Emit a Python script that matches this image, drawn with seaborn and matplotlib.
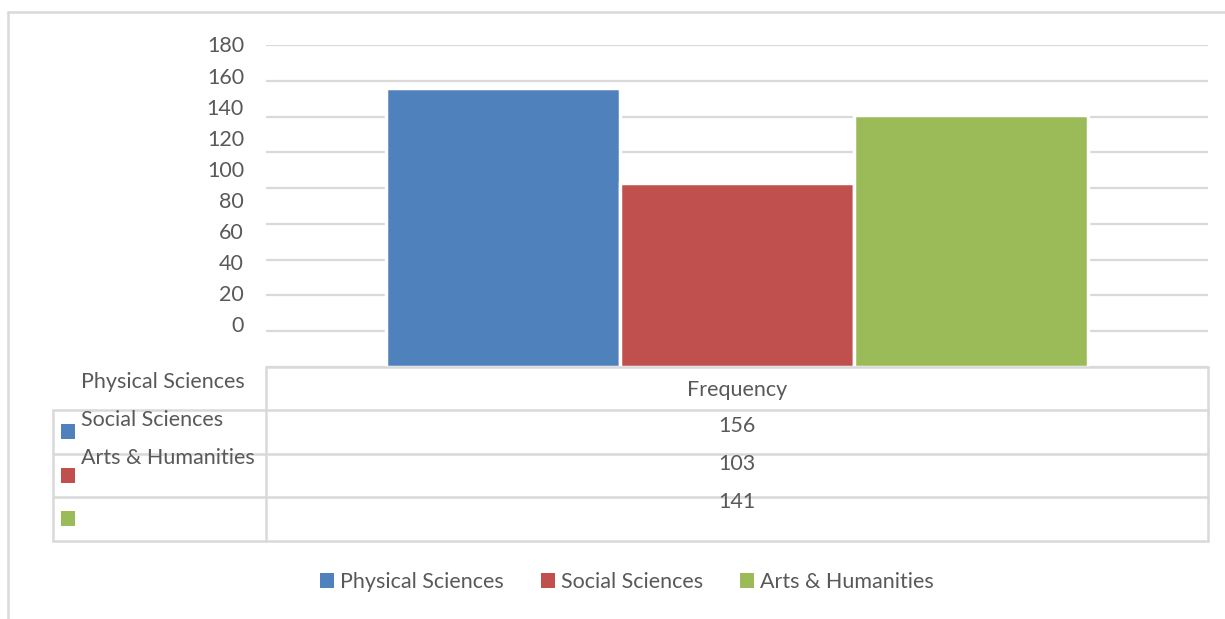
import matplotlib
matplotlib.use("Agg")
import matplotlib.pyplot as plt
from matplotlib.lines import Line2D
from matplotlib.patches import Rectangle
import seaborn as sns
import pandas as pd

# ---- data ----
fields = ["Physical Sciences", "Social Sciences", "Arts & Humanities"]
frequency = [156, 103, 141]
metric = "Frequency"
y_ticks = [0, 20, 40, 60, 80, 100, 120, 140, 160, 180]
colors = ["#4F81BD", "#C0504D", "#9BBB59"]

sns.set_theme(style="white")
plt.rcParams["font.family"] = ["Lato", "DejaVu Sans"]
TXT = "#595959"
GRID = "#D9D9D9"
FS = 15.5
DY = 1.5  # small vertical text offset (px)

W, H = 1225, 619
fig = plt.figure(figsize=(W / 100, H / 100), dpi=100)
fig.patch.set_facecolor("white")

def fx(x):
    return x / W

def fy(y):
    return 1 - y / H

# main axes
ax_l, ax_r, ax_t, ax_b = 266, 1208, 45, 367
ax = fig.add_axes([fx(ax_l), fy(ax_b), (ax_r - ax_l) / W, (ax_b - ax_t) / H])

df = pd.DataFrame({"Metric": [metric] * len(fields), "Field": fields, "Value": frequency})
sns.barplot(data=df, x="Metric", y="Value", hue="Field", hue_order=fields,
            palette=colors, width=0.745, saturation=1, ax=ax, legend=False,
            edgecolor="white", linewidth=2.5, zorder=3)

ax.set_ylim(0, 180)
ax.set_xlim(-0.5, 0.5)
ax.set_yticks(y_ticks)
ax.yaxis.grid(True, color=GRID, linewidth=1.6, zorder=0)
ax.set_axisbelow(True)
ax.tick_params(left=False, bottom=False, labelleft=False, labelbottom=False)
ax.set_xlabel("")
ax.set_ylabel("")
for s in ax.spines.values():
    s.set_visible(False)

# y tick labels (as rendered in reference, spaced slightly tighter than gridlines)
for i, v in enumerate(sorted(y_ticks, reverse=True)):
    ypix = 45 + i * 31.1 + DY
    fig.text(fx(244), fy(ypix), str(v), ha="right", va="center", fontsize=FS, color=TXT)

# ---- data table ----
def hline(x0, x1, y):
    fig.add_artist(Line2D([fx(x0), fx(x1)], [fy(y), fy(y)], color=GRID, linewidth=1.8,
                          transform=fig.transFigure))

def vline(x, y0, y1):
    fig.add_artist(Line2D([fx(x), fx(x)], [fy(y0), fy(y1)], color=GRID, linewidth=1.8,
                          transform=fig.transFigure))

hline(266, 1208, 367)
for y in [410, 454, 497, 541]:
    hline(53, 1208, y)
vline(53, 410, 541)
vline(266, 367, 541)
vline(1208, 367, 541)

fig.text(fx(737), fy(389 + DY), metric, ha="center", va="center", fontsize=FS, color=TXT)
name_y = [381, 419, 457]
val_y = [424, 463, 501]
key_y = [431, 475, 518]
for name, val, c, ny, vy, ky in zip(fields, frequency, colors, name_y, val_y, key_y):
    fig.text(fx(81), fy(ny + DY), name, ha="left", va="center", fontsize=FS, color=TXT)
    fig.text(fx(737), fy(vy + DY), str(val), ha="center", va="center", fontsize=FS, color=TXT)
    fig.add_artist(Rectangle((fx(61), fy(ky + 7.5)), 14 / W, 15 / H, facecolor=c,
                             edgecolor="none", transform=fig.transFigure))

# ---- bottom legend ----
handles = [Rectangle((0, 0), 1, 1, facecolor=c, edgecolor="none") for c in colors]
fig.legend(handles, fields, loc="center", bbox_to_anchor=(fx(627), fy(582)), ncol=3,
           frameon=False, fontsize=FS, handlelength=0.65, handleheight=0.65,
           handletextpad=0.3, columnspacing=1.7, labelcolor=TXT)

# ---- outer chart frame (partial, as in reference) ----
hline(8, 1225, 12)
vline(8, 12, 619)

fig.savefig("out.png", dpi=100, facecolor="white")
